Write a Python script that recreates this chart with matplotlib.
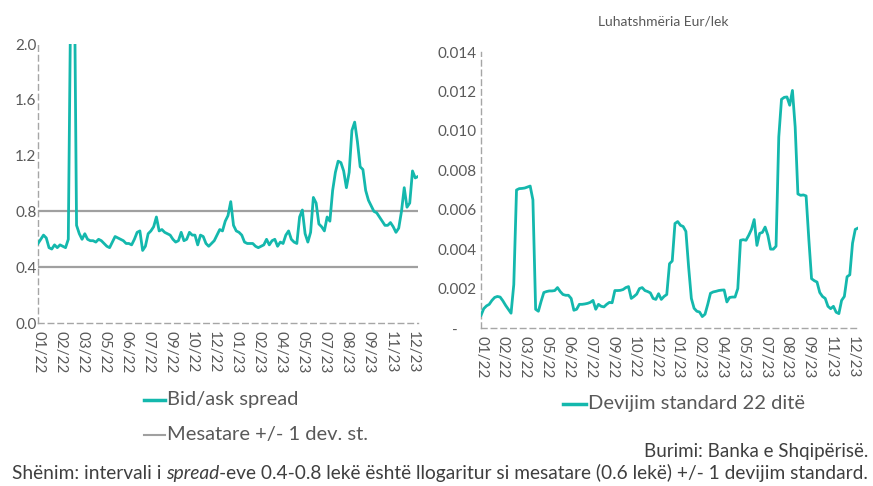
import matplotlib
matplotlib.use("Agg")
import matplotlib.pyplot as plt
from matplotlib.lines import Line2D

plt.rcParams['font.family'] = ['Lato', 'DejaVu Sans']

# ---- data ----
tick_labels = ["01/22", "02/22", "03/22", "05/22", "06/22", "07/22", "09/22", "10/22", "12/22",
               "01/23", "02/23", "04/23", "05/23", "07/23", "08/23", "09/23", "11/23", "12/23"]

bid_ask_spread = [
    0.57, 0.60, 0.63, 0.61, 0.54, 0.53, 0.56, 0.54, 0.56, 0.55, 0.54, 0.60, 2.60, 3.00, 0.70,
    0.64, 0.60, 0.64, 0.60, 0.59, 0.59, 0.58, 0.60, 0.59, 0.57, 0.55, 0.54, 0.58, 0.62, 0.61,
    0.60, 0.59, 0.57, 0.57, 0.56, 0.60, 0.65, 0.66, 0.52, 0.55, 0.64, 0.66, 0.69, 0.76, 0.66,
    0.67, 0.65, 0.64, 0.63, 0.60, 0.58, 0.59, 0.65, 0.59, 0.60, 0.65, 0.63, 0.63, 0.56, 0.63,
    0.62, 0.57, 0.55, 0.57, 0.59, 0.63, 0.67, 0.66, 0.73, 0.77, 0.87, 0.70, 0.66, 0.65, 0.63,
    0.58, 0.57, 0.57, 0.57, 0.55, 0.54, 0.55, 0.56, 0.60, 0.56, 0.59, 0.60, 0.55, 0.58, 0.57,
    0.63, 0.66, 0.60, 0.58, 0.57, 0.76, 0.81, 0.64, 0.58, 0.65, 0.90, 0.86, 0.71, 0.69, 0.66,
    0.76, 0.73, 0.95, 1.08, 1.16, 1.15, 1.09, 0.97, 1.08, 1.38, 1.44, 1.30, 1.12, 1.10, 0.95,
    0.88, 0.84, 0.80, 0.79, 0.76, 0.73, 0.70, 0.70, 0.72, 0.69, 0.65, 0.68, 0.80, 0.97, 0.83,
    0.86, 1.09, 1.04, 1.05]

band_lower = 0.4
band_upper = 0.8

std_22d_thousandths = [
    0.64, 0.98, 1.12, 1.20, 1.40, 1.55, 1.60, 1.57, 1.38, 1.15, 0.95, 0.75, 2.20, 7.00, 7.07,
    7.08, 7.10, 7.15, 7.20, 6.50, 0.95, 0.85, 1.35, 1.80, 1.85, 1.88, 1.88, 1.90, 2.05, 1.85,
    1.70, 1.66, 1.66, 1.50, 0.90, 0.95, 1.20, 1.20, 1.22, 1.25, 1.30, 1.40, 0.95, 1.20, 1.10,
    1.07, 1.20, 1.30, 1.28, 1.90, 1.90, 1.91, 1.95, 2.05, 2.10, 1.50, 1.60, 1.72, 2.00, 2.05,
    1.90, 1.85, 1.78, 1.50, 1.45, 1.74, 1.45, 1.60, 1.70, 3.26, 3.40, 5.30, 5.40, 5.21, 5.15,
    4.90, 3.09, 1.50, 1.00, 0.85, 0.81, 0.58, 0.70, 1.20, 1.76, 1.83, 1.86, 1.90, 1.92, 1.93,
    1.32, 1.55, 1.57, 1.57, 2.00, 4.45, 4.48, 4.45, 4.70, 5.00, 5.50, 4.19, 4.80, 4.85, 5.12,
    4.70, 4.00, 4.00, 4.15, 9.69, 11.60, 11.70, 11.72, 11.30, 12.05, 10.20, 6.80, 6.73, 6.75,
    6.70, 4.50, 2.50, 2.40, 2.33, 1.80, 1.60, 1.50, 1.10, 0.98, 1.10, 0.80, 0.73, 1.40, 1.60,
    2.60, 2.70, 4.30, 5.00, 5.07]
std_22d = [v / 1000.0 for v in std_22d_thousandths]

left_yticks = [0.0, 0.4, 0.8, 1.2, 1.6, 2.0]
right_yticks = [0.0, 0.002, 0.004, 0.006, 0.008, 0.010, 0.012, 0.014]
right_yticklabels = ["-     ", "0.002", "0.004", "0.006", "0.008", "0.010", "0.012", "0.014"]

# ---- style ----
TEAL = "#14B8AD"
GRAY_LINE = "#A0A0A0"
TXT = "#595959"
FOOT = "#3F3F3F"

fig = plt.figure(figsize=(8.73, 4.86), dpi=100)
W, H = 873, 486


def px_axes(x0, y0, x1, y1):
    return fig.add_axes([x0 / W, 1 - y1 / H, (x1 - x0) / W, (y1 - y0) / H])


def style_axes(ax):
    for s in ("top", "right"):
        ax.spines[s].set_visible(False)
    for s in ("left", "bottom"):
        ax.spines[s].set_color("#A6A6A6")
        ax.spines[s].set_linewidth(1.0)
        ax.spines[s].set_linestyle((0, (4, 3)))
    ax.tick_params(axis="both", length=0, colors=TXT, labelsize=11)
    ax.tick_params(axis="x", pad=6, labelsize=11)
    ax.set_facecolor("none")


n1 = len(bid_ask_spread)
x1 = list(range(n1))
tick_pos = [8 * i for i in range(len(tick_labels))]

# left panel
ax1 = px_axes(38, 44, 418, 323)
ax1.axhline(band_upper, color=GRAY_LINE, lw=1.6, zorder=1)
ax1.axhline(band_lower, color=GRAY_LINE, lw=1.6, zorder=1)
ax1.plot(x1, bid_ask_spread, color=TEAL, lw=2.0, zorder=3, solid_joinstyle="round")
ax1.set_xlim(0, n1 - 1)
ax1.set_ylim(0, 2.0)
ax1.set_yticks(left_yticks)
ax1.set_yticklabels([f"{v:.1f}" for v in left_yticks])
ax1.set_xticks(tick_pos)
ax1.set_xticklabels(tick_labels, rotation=270, va="top", ha="center")
style_axes(ax1)
ax1.tick_params(axis="y", pad=1)

# right panel
n2 = len(std_22d)
x2 = list(range(n2))
ax2 = px_axes(481, 52, 858, 328)
ax2.plot(x2, std_22d, color=TEAL, lw=2.0, zorder=3, solid_joinstyle="round")
ax2.set_xlim(0, n2 - 1)
ax2.set_ylim(0, 0.014)
ax2.set_yticks(right_yticks)
ax2.set_yticklabels(right_yticklabels)
ax2.set_xticks(tick_pos)
ax2.set_xticklabels(tick_labels, rotation=270, va="top", ha="center")
style_axes(ax2)
ax2.tick_params(axis="y", pad=3)

fig.text(663 / W, 1 - 22 / H, "Luhatshmëria Eur/lek", ha="center", va="center",
         fontsize=10, color=TXT)

# legends (manual)
def legend_item(x0, x1_, y, color, label, lw):
    fig.add_artist(Line2D([x0 / W, x1_ / W], [1 - y / H, 1 - y / H], color=color, lw=lw,
                          transform=fig.transFigure))
    fig.text((x1_ + 2) / W, 1 - (y - 1) / H, label, ha="left", va="center",
             fontsize=14.5, color=TXT)

legend_item(144, 165, 400, TEAL, "Bid/ask spread", 2.5)
legend_item(144, 165, 435, GRAY_LINE, "Mesatare +/- 1 dev. st.", 1.5)
legend_item(563, 586, 404, TEAL, "Devijim standard 22 ditë", 2.5)

# footnotes
fig.text(868 / W, 1 - 451 / H, "Burimi: Banka e Shqipërisë.", ha="right", va="center",
         fontsize=13.5, color=FOOT)

renderer = fig.canvas.get_renderer()
yfoot = 1 - 473 / H
t3 = fig.text(868 / W, yfoot, "-eve 0.4-0.8 lekë është llogaritur si mesatare (0.6 lekë) +/- 1 devijim standard.",
              ha="right", va="center", fontsize=13.8, color=FOOT)
bb3 = t3.get_window_extent(renderer)
t2 = fig.text(bb3.x0 / fig.bbox.width, yfoot, "spread", ha="right", va="center",
              fontsize=13.8, color=FOOT, style="italic")
bb2 = t2.get_window_extent(renderer)
t1 = fig.text(bb2.x0 / fig.bbox.width, yfoot, "Shënim: intervali i ", ha="right", va="center",
              fontsize=13.8, color=FOOT)

fig.savefig("out.png", dpi=100)
